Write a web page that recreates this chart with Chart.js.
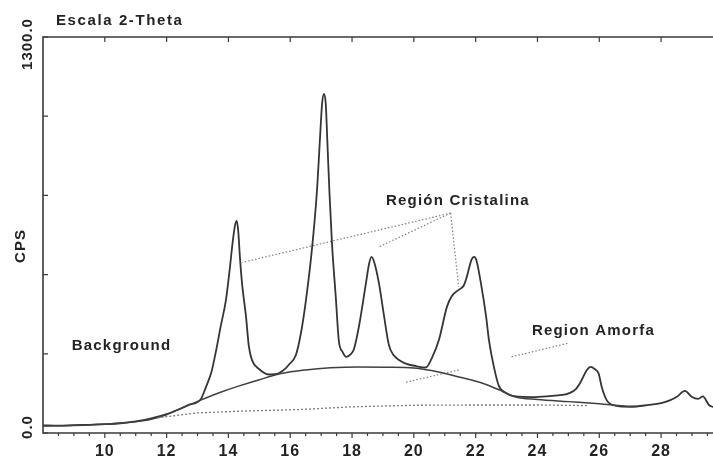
<!DOCTYPE html>
<html>
<head>
<meta charset="utf-8">
<script src="https://cdn.jsdelivr.net/npm/chart.js@4.4.1/dist/chart.umd.min.js"></script>
<style>
  html, body { margin: 0; padding: 0; background: #fff; }
  #wrap { width: 713px; height: 459px; }
</style>
</head>
<body>
<div id="wrap"><canvas id="xrd" width="713" height="459"></canvas></div>
<script>
// measured pattern (2-theta, CPS)
const theta = [8.0, 8.5, 9.0, 9.5, 10.0, 10.5, 11.0, 11.5, 12.0, 12.4, 12.7, 13.1, 13.27, 13.45, 13.59, 13.75,
  13.92, 14.05, 14.13, 14.21, 14.27, 14.32, 14.37, 14.44, 14.57, 14.66, 14.76, 14.99, 15.31, 15.64, 15.85, 15.96,
  16.18, 16.35, 16.51, 16.70, 16.86, 16.97, 17.03, 17.09, 17.15, 17.20, 17.27, 17.35, 17.48, 17.57, 17.70, 17.82,
  17.95, 18.06, 18.22, 18.45, 18.55, 18.63, 18.72, 18.87, 19.04, 19.19, 19.35, 19.52, 19.74, 20.05, 20.39, 20.6,
  20.81, 21.07, 21.23, 21.45, 21.62, 21.72, 21.87, 21.95, 22.03, 22.17, 22.34, 22.43, 22.59, 22.75, 23.0, 23.3,
  23.83, 24.38, 24.8, 25.03, 25.25, 25.4, 25.6, 25.72, 25.85, 25.98, 26.08, 26.24, 26.57, 27.0, 27.6, 28.0,
  28.3, 28.5, 28.77, 29.0, 29.2, 29.35, 29.55, 29.68];
const cps = [25, 24, 26, 27, 29, 32, 38, 48, 62, 78, 92, 110, 150, 200, 265, 350,
  437, 545, 620, 680, 696, 660, 580, 492, 381, 285, 240, 210, 192, 197, 212, 225,
  255, 330, 437, 601, 788, 980, 1080, 1113, 1080, 960, 788, 624, 437, 305, 265, 250,
  258, 275, 348, 492, 555, 578, 560, 492, 381, 290, 255, 240, 228, 220, 215, 250,
  305, 414, 450, 470, 485, 515, 570, 578, 565, 492, 381, 305, 217, 155, 130, 120,
  118, 121, 125, 131, 145, 168, 207, 217, 210, 195, 151, 108, 89, 86, 92, 98,
  108, 118, 138, 118, 112, 120, 92, 85];

// amorphous hump
const humpTheta = [8.0, 9.0, 10.0, 11.0, 11.5, 12.0, 12.5, 13.1, 13.7, 14.3, 15.0, 15.7, 16.5, 17.3, 18.2,
  19.1, 20.0, 20.8, 21.5, 22.2, 22.8, 23.3, 24.0, 25.0, 26.0, 26.8, 27.2];
const humpCps = [23, 25, 29, 37, 45, 60, 82, 108, 132, 153, 175, 195, 207, 214, 217,
  216, 213, 200, 183, 164, 140, 118, 110, 103, 96, 89, 87];

// background line (dotted)
const bgTheta = [11.7, 13.0, 14.5, 16.3, 18.0, 20.0, 22.0, 24.0, 25.6];
const bgCps = [50, 66, 72, 77, 86, 91, 92, 92, 90];

// annotation leaders [2theta, cps]
const cristalLeaders = [
  [[21.19, 722], [14.45, 560]],
  [[21.19, 722], [18.87, 611]],
  [[21.19, 722], [21.45, 480]]
];
const amorfaLeaders = [
  [[23.16, 250], [25.0, 295]],
  [[19.75, 167], [21.46, 207]]
];

const xTicks = [10, 12, 14, 16, 18, 20, 22, 24, 26, 28];
const yTicks = [0, 260, 520, 780, 1040, 1300];
const yLabels = ['0.0', '1300.0'];

const labels = [
  { text: 'Región Cristalina', x: 19.1, y: 762 },
  { text: 'Region Amorfa', x: 23.82, y: 335 },
  { text: 'Background', x: 8.93, y: 286 }
];

const ink = '#232323';
const toPts = (xs, ys) => xs.map((v, i) => ({ x: v, y: ys[i] }));

const leaderSets = cristalLeaders.concat(amorfaLeaders).map(seg => ({
  data: seg.map(p => ({ x: p[0], y: p[1] })),
  borderColor: '#808080',
  borderWidth: 1.2,
  borderDash: [1.5, 2],
  pointRadius: 0,
  showLine: true
}));

const frame = {
  id: 'frame',
  afterDatasetsDraw(chart) {
    const { ctx, chartArea: a, scales: { x, y } } = chart;
    ctx.save();
    ctx.strokeStyle = '#3a3a3a';
    ctx.lineWidth = 1.6;
    ctx.beginPath();
    ctx.moveTo(chart.width, a.top);
    ctx.lineTo(a.left, a.top);
    ctx.lineTo(a.left, a.bottom);
    ctx.lineTo(chart.width, a.bottom);
    ctx.stroke();

    // minor + major ticks
    ctx.lineWidth = 1.2;
    ctx.beginPath();
    for (let t = 8.5; t < 29.7; t += 0.5) {
      const px = x.getPixelForValue(t);
      const major = xTicks.includes(t);
      ctx.moveTo(px, a.bottom);
      ctx.lineTo(px, a.bottom + (major ? 5 : 3));
      if (major) {
        ctx.moveTo(px, a.top);
        ctx.lineTo(px, a.top + 5);
      }
    }
    yTicks.forEach(v => {
      const py = y.getPixelForValue(v);
      ctx.moveTo(a.left, py);
      ctx.lineTo(a.left + 5, py);
    });
    ctx.stroke();

    ctx.fillStyle = ink;
    ctx.font = 'bold 16px "Liberation Sans", Arial, sans-serif';
    ctx.letterSpacing = '1px';
    ctx.textAlign = 'center';
    ctx.textBaseline = 'middle';
    xTicks.forEach(t => ctx.fillText(String(t), x.getPixelForValue(t), 452));

    // rotated y labels
    ctx.font = 'bold 15px "Liberation Sans", Arial, sans-serif';
    const rot = (txt, cx, cy) => {
      ctx.save();
      ctx.translate(cx, cy);
      ctx.rotate(-Math.PI / 2);
      ctx.fillText(txt, 0, 0);
      ctx.restore();
    };
    rot(yLabels[0], 27.5, y.getPixelForValue(0) - 6);
    rot(yLabels[1], 27.5, y.getPixelForValue(1300) + 7);
    rot('CPS', 21, a.top + 209);

    ctx.letterSpacing = '1.6px';
    ctx.textAlign = 'left';
    ctx.textBaseline = 'alphabetic';
    ctx.fillText('Escala 2-Theta', a.left + 13, 25);

    ctx.letterSpacing = '1.2px';
    ctx.textBaseline = 'middle';
    labels.forEach(l => ctx.fillText(l.text, x.getPixelForValue(l.x), y.getPixelForValue(l.y)));
    ctx.restore();
  }
};

new Chart(document.getElementById('xrd'), {
  type: 'scatter',
  data: {
    datasets: [
      {
        data: toPts(bgTheta, bgCps),
        borderColor: '#7a7a7a',
        borderWidth: 1.3,
        borderDash: [2, 2],
        pointRadius: 0,
        showLine: true
      },
      {
        data: toPts(humpTheta, humpCps),
        borderColor: '#404040',
        borderWidth: 1.5,
        pointRadius: 0,
        showLine: true,
        cubicInterpolationMode: 'monotone'
      },
      {
        data: toPts(theta, cps),
        borderColor: '#353535',
        borderWidth: 1.8,
        pointRadius: 0,
        showLine: true,
        cubicInterpolationMode: 'monotone'
      }
    ].concat(leaderSets)
  },
  options: {
    responsive: false,
    animation: false,
    devicePixelRatio: 1,
    layout: { padding: { left: 43, top: 37, right: 0, bottom: 26 } },
    plugins: { legend: { display: false }, tooltip: { enabled: false } },
    scales: {
      x: { type: 'linear', min: 8, max: 29.68, display: false },
      y: { min: 0, max: 1300, display: false }
    }
  },
  plugins: [frame]
});
</script>
</body>
</html>
